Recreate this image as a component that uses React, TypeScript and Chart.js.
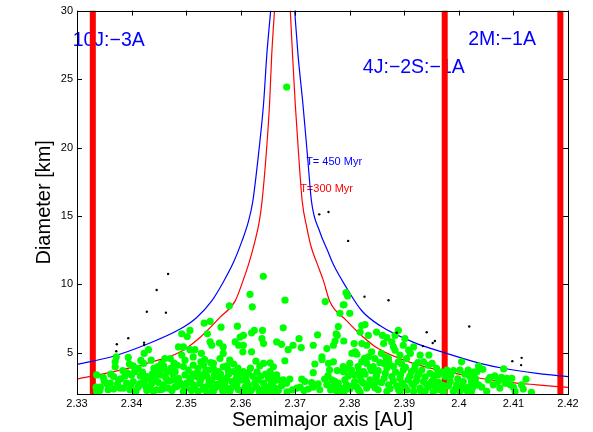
import React, { useEffect, useRef } from "react";
import { Chart, registerables } from "chart.js";

Chart.register(...registerables);

// ---- axis ticks ----
const xTicks = [2.33, 2.34, 2.35, 2.36, 2.37, 2.38, 2.39, 2.4, 2.41, 2.42];
const yTicks = [5, 10, 15, 20, 25, 30];

// ---- resonance locations (AU) ----
const resonanceA = [2.3329, 2.3974, 2.4186];

// ---- Yarkovsky isochrones: [a, D] ----
const blueLeft: [number, number][] = [
  [2.33, 4.16], [2.3367, 4.76], [2.3428, 5.63], [2.3489, 6.74], [2.3519, 7.57],
  [2.3547, 8.8], [2.3569, 10.24], [2.3586, 11.54], [2.3602, 13.13], [2.3614, 14.57],
  [2.3622, 16.01], [2.3633, 19.62], [2.3642, 23.22], [2.3648, 26.82], [2.3655, 30],
];
const blueRight: [number, number][] = [
  [2.3699, 30], [2.3705, 26.82], [2.3714, 23.22], [2.3722, 19.62], [2.373, 16.01],
  [2.3745, 13.85], [2.376, 12.4], [2.377, 11.45], [2.3794, 9.76], [2.3822, 8.08],
  [2.3855, 7.0], [2.3916, 5.79], [2.3978, 4.96], [2.4039, 4.24], [2.4081, 3.88],
  [2.4143, 3.51], [2.42, 3.27],
];
const redLeft: [number, number][] = [
  [2.33, 3.1], [2.3367, 3.63], [2.3428, 4.24], [2.3489, 5.07], [2.3526, 6.15],
  [2.3562, 7.6], [2.359, 8.8], [2.3604, 10.24], [2.3615, 11.54], [2.3626, 13.13],
  [2.3634, 14.57], [2.3639, 16.01], [2.3647, 19.62], [2.3653, 23.22], [2.3657, 26.82],
  [2.3662, 30],
];
const redRight: [number, number][] = [
  [2.3691, 30], [2.3695, 26.82], [2.37, 23.22], [2.3706, 19.62], [2.3713, 16.01],
  [2.3721, 14.21], [2.3729, 12.77], [2.374, 11.54], [2.3752, 10.24], [2.3763, 8.8],
  [2.3794, 7.36], [2.3825, 6.15], [2.3852, 5.32], [2.3916, 4.24], [2.3978, 3.63],
  [2.4039, 3.15], [2.4081, 2.91], [2.4143, 2.67], [2.42, 2.48],
];

// ---- family members (green) [a, D] ----
const familyMembers: [number, number][] = [
  [2.3336, 3.39], [2.3335, 2.5], [2.3348, 3.22], [2.3343, 2.5], [2.3361, 2.79], [2.337, 4.35],
  [2.3372, 4.71], [2.337, 3.99], [2.3367, 3.27], [2.3376, 3.03], [2.3379, 2.43], [2.3384, 3.71],
  [2.3388, 3.32], [2.3394, 4.67], [2.3396, 4.19], [2.3403, 2.91], [2.3406, 3.63], [2.3412, 3.87],
  [2.3412, 2.5], [2.3422, 4.23], [2.3423, 4.96], [2.3431, 5.24], [2.3428, 3.27], [2.3436, 4.47],
  [2.3437, 2.79], [2.3441, 3.87], [2.3446, 2.31], [2.3452, 3.39], [2.3455, 4.23], [2.3461, 4.59],
  [2.3465, 3.03], [2.3471, 4.59], [2.3472, 3.87], [2.348, 3.63], [2.3483, 2.55], [2.3486, 5.44],
  [2.3416, 3.32], [2.3422, 2.91], [2.3434, 2.43], [2.3443, 3.15], [2.3458, 2.67], [2.3467, 2.43],
  [2.3477, 3.03], [2.3391, 2.79], [2.3397, 2.31], [2.3385, 2.43], [2.3342, 2.26], [2.3357, 2.31],
  [2.3367, 2.36], [2.3428, 2.26], [2.3452, 2.31], [2.3474, 2.26], [2.34, 3.39], [2.3446, 3.63],
  [2.3465, 3.63], [2.3486, 3.15], [2.3336, 2.19],
  [2.338, 3.1], [2.3392, 3.55], [2.3399, 2.6], [2.3408, 2.2], [2.3415, 2.75], [2.342, 3.6],
  [2.3426, 2.55], [2.3432, 3.05], [2.3438, 3.45], [2.344, 2.2], [2.3449, 2.85], [2.3453, 3.7],
  [2.3457, 2.35], [2.3462, 3.25], [2.3469, 2.95], [2.3476, 3.45], [2.3479, 2.5], [2.3484, 4.1],
  [2.3488, 2.85], [2.3355, 2.75], [2.3362, 3.45], [2.335, 2.95], [2.3374, 2.7], [2.3403, 4.05],
  [2.3417, 4.45], [2.3448, 4.0], [2.3459, 4.05], [2.3478, 4.25],
  [2.36844, 24.42], [2.36415, 10.6], [2.36171, 9.28], [2.36213, 8.37], [2.36813, 8.85],
  [2.35792, 8.44], [2.3755, 8.75], [2.37931, 9.4], [2.3796, 9.16], [2.37894, 8.51],
  [2.3533, 7.17], [2.3544, 7.31], [2.3564, 6.88], [2.3594, 6.95], [2.3492, 6.4], [2.3507, 6.64],
  [2.3502, 6.2], [2.3539, 6.4], [2.3599, 6.16], [2.3605, 6.28], [2.362, 6.47], [2.3625, 6.64],
  [2.364, 6.64], [2.3639, 6.04], [2.3666, 5.8], [2.3544, 5.8], [2.3547, 5.56], [2.3561, 5.72],
  [2.3568, 5.44], [2.359, 5.8], [2.3596, 5.56], [2.3605, 5.56], [2.3604, 5.08], [2.362, 5.08],
  [2.3642, 5.68], [2.3507, 5.24], [2.3516, 5.24], [2.3495, 5.44], [2.3492, 4.84], [2.3498, 4.47],
  [2.3513, 4.71], [2.3528, 4.96], [2.3534, 4.52], [2.355, 4.23], [2.3562, 4.59], [2.3568, 4.96],
  [2.358, 4.47], [2.3587, 4.19], [2.3605, 3.63], [2.3614, 3.56], [2.3635, 4.04], [2.3642, 4.23],
  [2.3654, 4.28], [2.366, 3.99], [2.3654, 3.63], [2.3666, 3.39], [2.3669, 3.03],
  [2.3495, 4.0], [2.3504, 3.75], [2.3513, 4.11], [2.3522, 3.87], [2.3532, 4.11], [2.3541, 3.75],
  [2.355, 3.87], [2.3559, 3.63], [2.3568, 3.99], [2.3577, 3.75], [2.3587, 3.63], [2.3498, 3.39],
  [2.3507, 3.15], [2.3519, 3.27], [2.3529, 3.39], [2.3538, 3.27], [2.3547, 3.03], [2.3556, 3.27],
  [2.3565, 3.03], [2.3574, 3.15], [2.3584, 2.91], [2.3593, 3.27], [2.3602, 3.03], [2.3611, 2.91],
  [2.3623, 3.27], [2.3632, 3.03], [2.3642, 2.79], [2.3651, 3.15], [2.366, 2.91], [2.3492, 2.67],
  [2.3501, 2.79], [2.3513, 2.67], [2.3525, 2.79], [2.3535, 2.5], [2.3544, 2.67], [2.3553, 2.43],
  [2.3562, 2.55], [2.3574, 2.43], [2.3587, 2.55], [2.3596, 2.31], [2.3608, 2.5], [2.362, 2.31],
  [2.3629, 2.5], [2.3639, 2.31], [2.3651, 2.36], [2.3663, 2.43], [2.3495, 2.19], [2.351, 2.26],
  [2.3522, 2.19], [2.3538, 2.12], [2.355, 2.19], [2.3568, 2.12], [2.358, 2.19], [2.3605, 2.12],
  [2.3617, 2.12], [2.3645, 2.12], [2.3657, 2.12], [2.3669, 2.26],
  [2.35, 2.45], [2.3508, 2.95], [2.3516, 2.4], [2.352, 3.55], [2.3527, 3.05], [2.3531, 2.35],
  [2.3536, 3.7], [2.3542, 2.85], [2.3548, 2.3], [2.3552, 3.4], [2.3557, 2.7], [2.3563, 3.45],
  [2.3567, 2.3], [2.3571, 2.8], [2.3578, 3.45], [2.3582, 2.4], [2.359, 3.0], [2.3593, 2.7],
  [2.3599, 3.5], [2.3601, 2.25], [2.361, 3.25], [2.3614, 2.65], [2.3618, 3.9], [2.3626, 2.8],
  [2.363, 3.6], [2.3634, 2.2], [2.3637, 3.3], [2.3646, 3.45], [2.3648, 2.5], [2.3656, 2.75],
  [2.3661, 3.3], [2.3664, 2.2], [2.3512, 3.45], [2.3527, 4.35], [2.3545, 4.3], [2.3575, 4.05],
  [2.3595, 3.9], [2.3628, 4.4],
  [2.3788, 8.51], [2.3782, 7.89], [2.38, 7.89], [2.3678, 6.83], [2.3779, 6.93], [2.3741, 6.32],
  [2.3775, 6.4], [2.3777, 6.28], [2.3822, 7.0], [2.3828, 7.07], [2.3819, 6.52], [2.3834, 6.28],
  [2.3849, 6.52], [2.3675, 5.63], [2.3687, 5.24], [2.3696, 5.56], [2.3707, 6.04], [2.3711, 5.39],
  [2.3733, 5.56], [2.3758, 5.32], [2.377, 5.56], [2.3773, 5.87], [2.3789, 5.87], [2.3808, 5.68],
  [2.381, 5.08], [2.3813, 4.91], [2.3822, 5.68], [2.3831, 5.56], [2.3804, 4.96], [2.384, 5.08],
  [2.3681, 4.43], [2.3749, 4.71], [2.3749, 4.52], [2.3761, 4.23], [2.377, 4.35], [2.3736, 4.19],
  [2.3788, 4.0], [2.38, 4.23], [2.3803, 3.75], [2.3815, 4.0], [2.3831, 4.23], [2.3834, 4.71],
  [2.3846, 4.59], [2.3763, 3.75], [2.3777, 3.71], [2.3788, 3.63], [2.3733, 3.56], [2.3678, 3.03],
  [2.369, 3.08], [2.3675, 2.6], [2.3684, 2.79], [2.3712, 3.08], [2.3718, 2.91], [2.3709, 2.5],
  [2.3724, 2.36], [2.373, 2.84], [2.3733, 2.5], [2.3745, 2.31], [2.3754, 3.08], [2.3758, 2.67],
  [2.3767, 3.03], [2.377, 2.55], [2.3779, 2.79], [2.3782, 2.43], [2.3791, 3.03], [2.3794, 2.67],
  [2.38, 2.36], [2.3809, 2.91], [2.3813, 2.5], [2.3819, 3.27], [2.3825, 2.79], [2.3831, 2.43],
  [2.3837, 3.03], [2.3843, 2.67], [2.3849, 3.39], [2.3852, 2.31], [2.3825, 3.63], [2.384, 3.71],
  [2.3822, 4.35], [2.3843, 4.0], [2.3776, 2.19], [2.3788, 2.12], [2.3819, 2.12], [2.3703, 2.43],
  [2.3772, 2.95], [2.3786, 2.4], [2.3797, 3.3], [2.3805, 2.6], [2.3808, 3.4], [2.3816, 2.3],
  [2.3821, 2.95], [2.3828, 3.45], [2.3834, 2.65], [2.3838, 3.9], [2.3846, 2.45], [2.3848, 3.2],
  [2.3852, 3.7], [2.3855, 4.3], [2.3795, 3.8], [2.3817, 3.65], [2.3827, 4.6], [2.385, 2.9],
  [2.3765, 2.3], [2.379, 2.2], [2.376, 3.35], [2.3742, 2.75], [2.3716, 2.25], [2.3695, 2.3],
  [2.3685, 2.15],
  [2.386, 6.28], [2.3868, 6.11], [2.3877, 5.8], [2.3862, 5.68], [2.3883, 5.2], [2.3901, 6.04],
  [2.3898, 5.56], [2.3917, 5.44], [2.3911, 4.96], [2.3929, 4.84], [2.3945, 4.84], [2.3935, 4.35],
  [2.3951, 4.23], [2.3858, 4.96], [2.3871, 4.59], [2.3889, 4.35], [2.3904, 4.59], [2.392, 4.11],
  [2.3862, 4.23], [2.388, 4.0], [2.3898, 3.75], [2.3913, 3.63], [2.3932, 3.75], [2.3947, 3.51],
  [2.3959, 3.87], [2.3962, 3.39], [2.3865, 3.51], [2.3877, 3.27], [2.3892, 3.15], [2.3907, 3.03],
  [2.3923, 3.22], [2.3935, 2.91], [2.3953, 3.03], [2.3858, 2.84], [2.3871, 2.67], [2.3886, 2.6],
  [2.3901, 2.5], [2.3917, 2.67], [2.3929, 2.43], [2.3944, 2.5], [2.3956, 2.6], [2.3965, 2.31],
  [2.3975, 2.55], [2.3978, 3.75], [2.3975, 3.27], [2.399, 3.71], [2.4002, 3.75], [2.4005, 4.35],
  [2.4017, 3.75], [2.402, 3.27], [2.4033, 3.63], [2.403, 3.03], [2.3984, 2.91], [2.3996, 2.67],
  [2.4008, 2.91], [2.4017, 2.5], [2.4036, 2.67], [2.399, 2.19], [2.4002, 2.19], [2.3868, 2.19],
  [2.3892, 2.12], [2.3917, 2.19], [2.3938, 2.19], [2.3953, 2.12], [2.3972, 2.12], [2.3883, 6.28],
  [2.3889, 6.64],
  [2.3863, 3.15], [2.3868, 3.9], [2.3874, 2.4], [2.388, 2.95], [2.3884, 3.6], [2.3889, 2.35],
  [2.3893, 3.4], [2.3896, 2.8], [2.3902, 3.95], [2.3905, 2.3], [2.391, 3.3], [2.3914, 2.75],
  [2.3919, 3.85], [2.3922, 2.95], [2.3926, 3.45], [2.393, 2.2], [2.3938, 3.25], [2.3941, 2.7],
  [2.3944, 4.1], [2.3949, 2.85], [2.3955, 3.35], [2.3958, 2.35], [2.3963, 2.85], [2.3968, 3.6],
  [2.397, 2.65], [2.3925, 4.3], [2.3895, 4.2], [2.3872, 4.25], [2.3866, 4.7], [2.388, 5.45],
  [2.3908, 5.2], [2.3892, 4.85],
  [2.3985, 3.35], [2.3994, 2.4], [2.3998, 3.1], [2.4006, 2.55], [2.4011, 3.45], [2.4014, 2.25],
  [2.4025, 2.45], [2.4027, 3.6], [2.3981, 2.6],
  [2.4036, 4.04], [2.4044, 3.8], [2.4082, 3.83], [2.4025, 3.39], [2.403, 3.15], [2.4023, 2.91],
  [2.4033, 2.67], [2.4042, 2.5], [2.4054, 3.03], [2.4057, 3.22], [2.4066, 3.32], [2.4072, 2.91],
  [2.4078, 3.22], [2.4088, 3.15], [2.4097, 3.15], [2.4085, 2.79], [2.4094, 2.67], [2.4075, 2.43],
  [2.41, 2.5], [2.4115, 2.67], [2.4118, 2.36], [2.4123, 3.08], [2.4051, 2.19], [2.4133, 2.12],
  [2.4023, 2.19], [2.4103, 2.19], [2.4063, 2.67],
];

// ---- background (non-family) objects [a, D] ----
const background: [number, number][] = [
  [2.3428, 8.01], [2.3463, 7.94], [2.3394, 6.08], [2.3373, 5.63], [2.3372, 5.12], [2.3423, 5.75],
  [2.3423, 5.58], [2.3446, 9.59], [2.3467, 10.77], [2.3744, 15.12], [2.3761, 15.29],
  [2.3797, 13.18], [2.3827, 9.11], [2.3871, 8.85], [2.3886, 6.47], [2.3941, 6.51], [2.3934, 5.5],
  [2.3952, 5.72], [2.3956, 5.87], [2.4019, 6.93], [2.4098, 4.4], [2.4115, 4.64], [2.4114, 4.11],
];

// ---- text annotations ----
const annotations = [
  { text: "10J:\u22123A", a: 2.3292, d: 27.42, color: "#0000ff", size: 19.5 },
  { text: "4J:\u22122S:\u22121A", a: 2.3824, d: 25.45, color: "#0000ff", size: 19.5 },
  { text: "2M:\u22121A", a: 2.4017, d: 27.47, color: "#0000ff", size: 19.5 },
  { text: "T= 450 Myr", a: 2.372, d: 18.73, color: "#0000ff", size: 11 },
  { text: "T=300 Myr", a: 2.3709, d: 16.78, color: "#ff0000", size: 11 },
];

const FONT = '"Liberation Sans", Arial, Helvetica, sans-serif';

const toXY = (arr: [number, number][]) => arr.map(([x, y]) => ({ x, y }));

const decorPlugin = {
  id: "decor",
  beforeDatasetsDraw(chart: any) {
    const { ctx } = chart;
    const xs = chart.scales.x;
    const ys = chart.scales.y;
    ctx.save();
    ctx.textBaseline = "alphabetic";
    ctx.textAlign = "left";
    for (const l of annotations) {
      ctx.font = `${l.size}px ${FONT}`;
      ctx.fillStyle = l.color;
      ctx.fillText(l.text, xs.getPixelForValue(l.a), ys.getPixelForValue(l.d));
    }
    ctx.restore();
  },
  afterDatasetsDraw(chart: any) {
    const { ctx, chartArea } = chart;
    const { left, right, top, bottom } = chartArea;
    const xs = chart.scales.x;
    const ys = chart.scales.y;
    ctx.save();
    ctx.strokeStyle = "#000";
    ctx.lineWidth = 1;
    ctx.beginPath();
    const L = 5;
    for (const v of xTicks) {
      const px = Math.round(xs.getPixelForValue(v)) + 0.5;
      ctx.moveTo(px, bottom);
      ctx.lineTo(px, bottom - L);
      ctx.moveTo(px, top);
      ctx.lineTo(px, top + L);
    }
    for (const v of yTicks) {
      const py = Math.round(ys.getPixelForValue(v)) + 0.5;
      ctx.moveTo(left, py);
      ctx.lineTo(left + L, py);
      ctx.moveTo(right, py);
      ctx.lineTo(right - L, py);
    }
    ctx.stroke();
    ctx.strokeRect(Math.round(left) + 0.5, Math.round(top) + 0.5, Math.round(right - left), Math.round(bottom - top));
    ctx.restore();
  },
};

export default function App() {
  const ref = useRef<HTMLCanvasElement | null>(null);

  useEffect(() => {
    document.body.style.margin = "0";
    const canvas = ref.current;
    if (!canvas) return;

    const curve = (data: [number, number][], color: string) => ({
      data: toXY(data),
      showLine: true,
      borderColor: color,
      backgroundColor: color,
      borderWidth: 1.2,
      pointRadius: 0,
      cubicInterpolationMode: "monotone" as const,
      order: 3,
    });

    const datasets: any[] = [
      ...resonanceA.map((a) => ({
        data: [{ x: a, y: 2 }, { x: a, y: 30 }],
        showLine: true,
        borderColor: "#ff0000",
        borderWidth: 6,
        pointRadius: 0,
        order: 4,
      })),
      curve(blueLeft, "#0000ff"),
      curve(blueRight, "#0000ff"),
      curve(redLeft, "#ff0000"),
      curve(redRight, "#ff0000"),
      {
        data: toXY(familyMembers),
        pointRadius: 3.6,
        pointBorderWidth: 0,
        backgroundColor: "#00ff00",
        borderColor: "#00ff00",
        order: 2,
      },
      {
        data: toXY(background),
        pointRadius: 1.2,
        pointBorderWidth: 0,
        backgroundColor: "#000000",
        borderColor: "#000000",
        order: 1,
      },
    ];

    const chart = new Chart(canvas, {
      type: "scatter",
      data: { datasets },
      plugins: [decorPlugin],
      options: {
        animation: false,
        responsive: false,
        devicePixelRatio: 1,
        layout: { padding: { top: 6, right: 25, left: 0, bottom: 0 } },
        plugins: { legend: { display: false }, tooltip: { enabled: false } },
        scales: {
          x: {
            type: "linear",
            position: "bottom",
            min: 2.33,
            max: 2.42,
            afterBuildTicks: (s: any) => {
              s.ticks = xTicks.map((v) => ({ value: v }));
            },
            afterFit: (s: any) => {
              s.height = 38;
            },
            grid: { display: false, drawTicks: false },
            border: { display: false },
            ticks: {
              padding: 3,
              color: "#000",
              font: { family: FONT, size: 11 },
              maxRotation: 0,
              callback: (v: any) => String(+Number(v).toFixed(2)),
            },
            title: {
              display: true,
              text: "Semimajor axis [AU]",
              color: "#000",
              font: { family: FONT, size: 20 },
              padding: { top: 0, bottom: 0 },
            },
          },
          y: {
            type: "linear",
            min: 2,
            max: 30,
            afterBuildTicks: (s: any) => {
              s.ticks = yTicks.map((v) => ({ value: v }));
            },
            afterFit: (s: any) => {
              s.width = 77;
            },
            grid: { display: false, drawTicks: false },
            border: { display: false },
            ticks: {
              padding: 4,
              color: "#000",
              font: { family: FONT, size: 11 },
            },
            title: {
              display: true,
              text: "Diameter [km]",
              color: "#000",
              font: { family: FONT, size: 20 },
              padding: { top: 32, bottom: 0 },
            },
          },
        },
      },
    });
    return () => chart.destroy();
  }, []);

  return <canvas ref={ref} width={593} height={432} style={{ display: "block" }} />;
}
